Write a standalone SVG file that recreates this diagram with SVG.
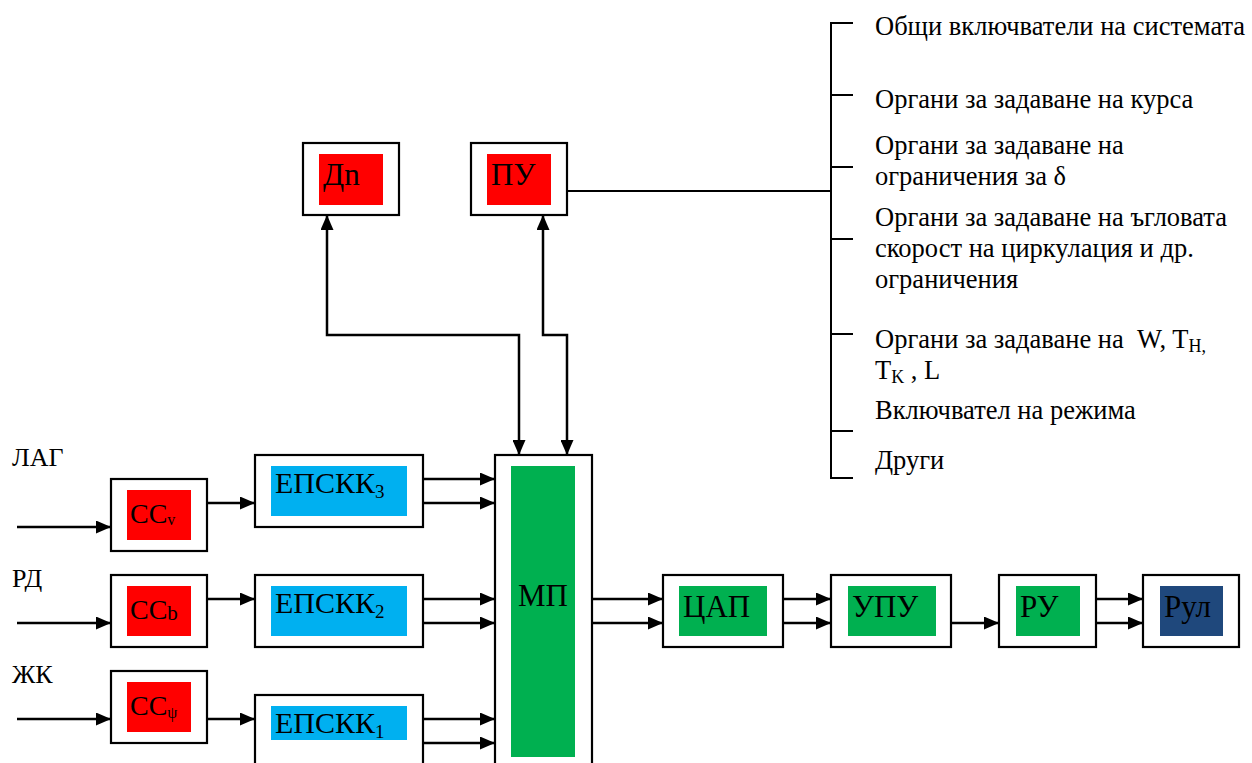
<svg xmlns="http://www.w3.org/2000/svg" width="1252" height="763" viewBox="0 0 1252 763">
<defs>
<marker id="ah" markerWidth="15" markerHeight="13" refX="15" refY="6.5" orient="auto-start-reverse" markerUnits="userSpaceOnUse"><path d="M0,0 L15,6.5 L0,13 z" fill="#000"/></marker>
</defs>
<g font-family="Liberation Serif, Times New Roman, serif" fill="#000">

<g id="labels-left" font-size="26">
<text x="12" y="466">ЛАГ</text>
<text x="12" y="587">РД</text>
<text x="12" y="683">ЖК</text>
</g>

<g id="ccv"><rect x="111" y="479" width="96" height="72" fill="#fff" stroke="#000" stroke-width="2.2"/><rect x="127" y="490" width="64" height="50" fill="#FF0000"/><text font-size="28" x="130" y="523">СС<tspan font-size="16" dy="2">v</tspan></text></g>
<g id="ccb"><rect x="111" y="575" width="96" height="72" fill="#fff" stroke="#000" stroke-width="2.2"/><rect x="127" y="586" width="64" height="50" fill="#FF0000"/><text font-size="28" x="130" y="619">СС<tspan font-size="21" dy="1">b</tspan></text></g>
<g id="ccpsi"><rect x="111" y="671" width="96" height="72" fill="#fff" stroke="#000" stroke-width="2.2"/><rect x="127" y="682" width="64" height="50" fill="#FF0000"/><text font-size="28" x="130" y="715">СС<tspan font-size="16" dy="3">ψ</tspan></text></g>

<g id="epskk3"><rect x="255" y="455" width="168" height="72" fill="#fff" stroke="#000" stroke-width="2.2"/><rect x="271" y="466" width="136" height="50" fill="#00B0F0"/><text font-size="30" x="275" y="493">ЕПСКК<tspan font-size="19" dy="5">3</tspan></text></g>
<g id="epskk2"><rect x="255" y="575" width="168" height="72" fill="#fff" stroke="#000" stroke-width="2.2"/><rect x="271" y="586" width="136" height="50" fill="#00B0F0"/><text font-size="30" x="275" y="613">ЕПСКК<tspan font-size="19" dy="5">2</tspan></text></g>
<g id="epskk1"><rect x="255" y="695" width="168" height="80" fill="#fff" stroke="#000" stroke-width="2.2"/><rect x="271" y="706" width="136" height="34" fill="#00B0F0"/><text font-size="30" x="275" y="733">ЕПСКК<tspan font-size="19" dy="5">1</tspan></text></g>

<g id="mp"><rect x="495" y="455" width="97" height="320" fill="#fff" stroke="#000" stroke-width="2.2"/><rect x="511" y="466" width="64" height="291" fill="#00B050"/><text font-size="31" x="543" y="606" text-anchor="middle">МП</text></g>

<g id="tsap"><rect x="663" y="575" width="120" height="72" fill="#fff" stroke="#000" stroke-width="2.2"/><rect x="679" y="586" width="88" height="50" fill="#00B050"/><text font-size="31" x="683" y="617">ЦАП</text></g>
<g id="upu"><rect x="831" y="575" width="120" height="72" fill="#fff" stroke="#000" stroke-width="2.2"/><rect x="848" y="586" width="88" height="50" fill="#00B050"/><text font-size="31" x="852" y="617">УПУ</text></g>
<g id="ru"><rect x="999" y="575" width="97" height="72" fill="#fff" stroke="#000" stroke-width="2.2"/><rect x="1016" y="586" width="64" height="50" fill="#00B050"/><text font-size="31" x="1020" y="617">РУ</text></g>
<g id="rul"><rect x="1143" y="575" width="96" height="72" fill="#fff" stroke="#000" stroke-width="2.2"/><rect x="1160" y="586" width="63" height="50" fill="#1F487C"/><text font-size="31" x="1164" y="617">Рул</text></g>

<g id="dn"><rect x="303" y="143" width="96" height="72" fill="#fff" stroke="#000" stroke-width="2.2"/><rect x="319" y="154" width="64" height="51" fill="#FF0000"/><text font-size="31" x="323" y="185">Дn</text></g>
<g id="pu"><rect x="471" y="143" width="96" height="72" fill="#fff" stroke="#000" stroke-width="2.2"/><rect x="487" y="154" width="64" height="51" fill="#FF0000"/><text font-size="31" x="491" y="185">ПУ</text></g>

<g id="list" font-size="26.5">
<text x="875" y="35">Общи включватели на системата</text>
<text x="875" y="108">Органи за задаване на курса</text>
<text x="875" y="154">Органи за задаване на</text>
<text x="875" y="185">ограничения за δ</text>
<text x="875" y="226">Органи за задаване на ъгловата</text>
<text x="875" y="257">скорост на циркулация и др.</text>
<text x="875" y="288">ограничения</text>
<text x="875" y="348" xml:space="preserve">Органи за задаване на  W, T<tspan font-size="18" dy="4">H,</tspan></text>
<text x="875" y="379">T<tspan font-size="18" dy="4">K</tspan><tspan dy="-4"> , L</tspan></text>
<text x="875" y="419">Включвател на режима</text>
<text x="875" y="469">Други</text>
</g>
</g>

<g id="connectors" fill="none" stroke="#000" stroke-width="2.5">
<line x1="17" y1="527" x2="111" y2="527" marker-end="url(#ah)"/>
<line x1="17" y1="623" x2="111" y2="623" marker-end="url(#ah)"/>
<line x1="17" y1="719" x2="111" y2="719" marker-end="url(#ah)"/>
<line x1="207" y1="503" x2="255" y2="503" marker-end="url(#ah)"/>
<line x1="207" y1="599" x2="255" y2="599" marker-end="url(#ah)"/>
<line x1="207" y1="719" x2="255" y2="719" marker-end="url(#ah)"/>
<line x1="423" y1="479" x2="495" y2="479" marker-end="url(#ah)"/>
<line x1="423" y1="503" x2="495" y2="503" marker-end="url(#ah)"/>
<line x1="423" y1="599" x2="495" y2="599" marker-end="url(#ah)"/>
<line x1="423" y1="623" x2="495" y2="623" marker-end="url(#ah)"/>
<line x1="423" y1="719" x2="495" y2="719" marker-end="url(#ah)"/>
<line x1="423" y1="743" x2="495" y2="743" marker-end="url(#ah)"/>
<line x1="592" y1="599" x2="663" y2="599" marker-end="url(#ah)"/>
<line x1="592" y1="623" x2="663" y2="623" marker-end="url(#ah)"/>
<line x1="783" y1="599" x2="831" y2="599" marker-end="url(#ah)"/>
<line x1="783" y1="623" x2="831" y2="623" marker-end="url(#ah)"/>
<line x1="951" y1="623" x2="999" y2="623" marker-end="url(#ah)"/>
<line x1="1096" y1="599" x2="1143" y2="599" marker-end="url(#ah)"/>
<line x1="1096" y1="623" x2="1143" y2="623" marker-end="url(#ah)"/>
<path d="M327,215 L327,335 L519,335 L519,455" marker-start="url(#ah)" marker-end="url(#ah)"/>
<path d="M543,215 L543,335 L567,335 L567,455" marker-start="url(#ah)" marker-end="url(#ah)"/>
<g stroke-width="2">
<line x1="567" y1="191" x2="831" y2="191"/>
<path d="M853,23 L831,23 L831,478 L853,478"/>
<line x1="831" y1="95" x2="853" y2="95"/>
<line x1="831" y1="167" x2="853" y2="167"/>
<line x1="831" y1="239" x2="853" y2="239"/>
<line x1="831" y1="334" x2="853" y2="334"/>
<line x1="831" y1="431" x2="853" y2="431"/>
</g>
</g>
</svg>
